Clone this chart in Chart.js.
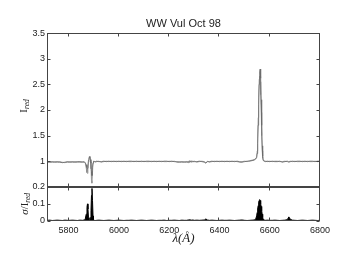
<!DOCTYPE html>
<html>
<head>
<meta charset="utf-8">
<script src="https://cdn.jsdelivr.net/npm/chart.js@4.4.1/dist/chart.umd.min.js"></script>
<style>
  body { margin: 0; background: #fff; }
  #wrap { width: 341px; height: 256px; }
</style>
</head>
<body>
<div id="wrap"><canvas id="myChart" width="341" height="256"></canvas></div>
<script>
// wavelength grid (Angstrom), denser around the lines
const lam = [
  5714, 5725, 5735, 5745, 5755, 5765, 5775, 5785, 5795, 5805,
  5815, 5825, 5835, 5845, 5855, 5862, 5866, 5870, 5873, 5875,
  5877, 5879, 5881, 5883, 5885, 5887, 5889, 5891, 5893, 5895,
  5897, 5899, 5902, 5906, 5912, 5920, 5930, 5940, 5950, 5960,
  5970, 5980, 5990, 6000, 6010, 6020, 6030, 6040, 6050, 6060,
  6070, 6080, 6090, 6100, 6110, 6120, 6130, 6140, 6150, 6160,
  6170, 6180, 6190, 6200, 6210, 6220, 6230, 6240, 6250, 6260,
  6270, 6276, 6282, 6288, 6294, 6300, 6310, 6320, 6330, 6340,
  6346, 6352, 6360, 6370, 6380, 6390, 6400, 6410, 6420, 6430,
  6440, 6450, 6460, 6470, 6480, 6490, 6500, 6510, 6520, 6530,
  6538, 6544, 6548, 6550, 6552, 6554, 6556, 6558, 6560, 6562,
  6564, 6566, 6568, 6570, 6572, 6574, 6578, 6584, 6590, 6600,
  6610, 6620, 6630, 6640, 6650, 6660, 6670, 6676, 6682, 6690,
  6700, 6710, 6720, 6730, 6740, 6750, 6760, 6770, 6780, 6790,
  6800
];

// relative intensity, two overplotted spectra
const iRelA = [
  0.99, 0.98, 0.99, 0.98, 0.99, 0.98, 0.97, 0.98, 0.99, 0.98,
  0.99, 0.98, 0.99, 0.99, 0.98, 0.99, 0.97, 0.93, 0.88, 0.86,
  0.92, 1.02, 1.06, 1.08, 1.07, 1.03, 0.96, 0.80, 0.72, 0.88,
  0.97, 1.00, 0.99, 0.99, 1.00, 0.99, 0.99, 1.00, 0.99, 1.00,
  0.99, 1.00, 0.99, 1.00, 0.99, 1.00, 0.99, 1.00, 1.00, 0.99,
  1.00, 0.99, 1.00, 0.99, 1.00, 1.00, 0.99, 1.00, 0.99, 1.00,
  0.99, 1.00, 1.00, 0.99, 1.00, 0.99, 0.99, 0.98, 0.99, 0.98,
  0.99, 0.97, 1.01, 0.98, 1.00, 0.99, 0.99, 1.00, 0.99, 0.98,
  0.96, 0.99, 0.99, 1.00, 0.99, 1.00, 0.99, 1.00, 0.99, 1.00,
  0.99, 1.00, 0.99, 1.00, 0.99, 0.98, 0.99, 1.00, 1.00, 1.01,
  1.02, 1.04, 1.07, 1.15, 1.35, 1.70, 2.10, 2.50, 2.75, 2.80,
  2.62, 2.20, 1.70, 1.30, 1.10, 1.03, 1.00, 0.99, 1.00, 0.99,
  1.00, 0.99, 0.99, 1.00, 0.98, 0.99, 1.00, 0.98, 0.99, 1.00,
  0.99, 1.00, 1.00, 0.99, 1.00, 0.99, 1.00, 1.00, 0.99, 1.00,
  1.00
];
const iRelB = [
  0.98, 0.99, 0.98, 0.99, 0.98, 0.99, 0.98, 0.97, 0.98, 0.99,
  0.98, 0.99, 0.98, 0.98, 0.99, 0.98, 0.96, 0.86, 0.78, 0.76,
  0.85, 0.98, 1.04, 1.10, 1.05, 0.98, 0.85, 0.62, 0.57, 0.78,
  0.95, 0.99, 1.00, 0.98, 0.99, 1.00, 0.98, 0.99, 1.00, 0.99,
  1.00, 0.99, 1.00, 0.99, 1.00, 0.99, 1.00, 0.99, 0.99, 1.00,
  0.99, 1.00, 0.99, 1.00, 0.99, 0.99, 1.00, 0.99, 1.00, 0.99,
  1.00, 0.99, 0.99, 1.00, 0.99, 1.00, 0.98, 0.99, 0.98, 0.99,
  0.98, 1.00, 0.97, 1.01, 0.98, 1.00, 0.98, 0.99, 1.00, 0.99,
  0.97, 1.00, 0.98, 0.99, 1.00, 0.99, 1.00, 0.99, 1.00, 0.99,
  1.00, 0.99, 1.00, 0.99, 0.98, 0.99, 1.00, 0.99, 1.01, 1.02,
  1.03, 1.05, 1.08, 1.20, 1.45, 1.85, 2.25, 2.60, 2.66, 2.55,
  2.30, 1.95, 1.50, 1.20, 1.06, 1.01, 1.00, 1.00, 0.99, 1.00,
  0.99, 1.00, 1.00, 0.99, 0.99, 1.00, 0.99, 0.99, 1.00, 0.99,
  1.00, 0.99, 0.99, 1.00, 0.99, 1.00, 0.99, 0.99, 1.00, 0.99,
  1.00
];

// sigma / I_rel
const sigmaRel = [
  0.004, 0.005, 0.003, 0.004, 0.005, 0.004, 0.003, 0.005, 0.004, 0.004,
  0.005, 0.004, 0.003, 0.005, 0.004, 0.006, 0.010, 0.040, 0.080, 0.100,
  0.070, 0.020, 0.010, 0.005, 0.008, 0.020, 0.060, 0.150, 0.190, 0.120,
  0.030, 0.008, 0.004, 0.003, 0.004, 0.005, 0.004, 0.003, 0.004, 0.005,
  0.004, 0.003, 0.004, 0.005, 0.004, 0.003, 0.004, 0.004, 0.005, 0.004,
  0.003, 0.004, 0.005, 0.004, 0.003, 0.004, 0.005, 0.004, 0.003, 0.004,
  0.004, 0.005, 0.003, 0.004, 0.004, 0.005, 0.004, 0.003, 0.005, 0.004,
  0.004, 0.006, 0.007, 0.005, 0.006, 0.004, 0.005, 0.004, 0.005, 0.006,
  0.012, 0.006, 0.004, 0.005, 0.004, 0.003, 0.004, 0.005, 0.004, 0.004,
  0.005, 0.004, 0.003, 0.004, 0.005, 0.006, 0.004, 0.003, 0.004, 0.005,
  0.006, 0.010, 0.030, 0.050, 0.070, 0.090, 0.110, 0.120, 0.125, 0.120,
  0.100, 0.085, 0.060, 0.040, 0.020, 0.010, 0.006, 0.004, 0.005, 0.004,
  0.004, 0.005, 0.004, 0.003, 0.004, 0.005, 0.008, 0.024, 0.010, 0.005,
  0.004, 0.003, 0.004, 0.005, 0.004, 0.003, 0.004, 0.005, 0.004, 0.003,
  0.004
];

const xTickVals = [5800, 6000, 6200, 6400, 6600, 6800];
const yTickVals = [0.5, 1, 1.5, 2, 2.5, 3, 3.5];
const y2TickVals = [0, 0.1, 0.2];
const chartTitle = 'WW Vul Oct 98';

const toXY = (ys) => lam.map((l, i) => ({ x: l, y: ys[i] }));

// box round each panel with inward ticks (matlab style), plus y axis titles with subscripts
function drawRotLabel(ctx, cx, cy, parts) {
  ctx.save();
  ctx.translate(cx, cy);
  ctx.rotate(-Math.PI / 2);
  let w = 0;
  parts.forEach(p => { ctx.font = p.font; p.w = ctx.measureText(p.t).width; w += p.w; });
  let x = -w / 2;
  ctx.textBaseline = 'alphabetic';
  ctx.fillStyle = '#222';
  parts.forEach(p => { ctx.font = p.font; ctx.fillText(p.t, x, p.dy); x += p.w; });
  ctx.restore();
}

const panelFrame = {
  id: 'panelFrame',
  afterDraw(chart) {
    const ctx = chart.ctx;
    const xs = chart.scales.x;
    ctx.save();
    ctx.strokeStyle = '#444';
    ctx.lineWidth = 1;
    ['y', 'y2'].forEach(id => {
      const ys = chart.scales[id];
      const l = Math.round(xs.left) + 0.5, r = Math.round(xs.right) - 0.5;
      const t = Math.round(ys.top) + 0.5, b = Math.round(ys.bottom) - 0.5;
      ctx.strokeRect(l, t, r - l, b - t);
      ctx.beginPath();
      xs.ticks.forEach(tk => {
        const px = Math.round(xs.getPixelForValue(tk.value)) - 0.5;
        ctx.moveTo(px, t); ctx.lineTo(px, t + 3);
        ctx.moveTo(px, b); ctx.lineTo(px, b - 3);
      });
      ys.ticks.forEach(tk => {
        const py = Math.round(ys.getPixelForValue(tk.value)) + 0.5;
        ctx.moveTo(l, py); ctx.lineTo(l + 3, py);
        ctx.moveTo(r, py); ctx.lineTo(r - 3, py);
      });
      ctx.stroke();
    });
    ctx.restore();

    const yTop = chart.scales.y, yBot = chart.scales.y2;
    const big = '11px "Liberation Serif"', sub = 'italic 7.5px "Liberation Serif"';
    drawRotLabel(ctx, 27, (yTop.top + yTop.bottom) / 2 - 4, [
      { t: 'I', font: big, dy: 0 },
      { t: 'red', font: sub, dy: 2 }
    ]);
    drawRotLabel(ctx, 28, (yBot.top + yBot.bottom) / 2, [
      { t: 'σ', font: 'italic ' + big, dy: 0 },
      { t: '/', font: big, dy: 0 },
      { t: 'I', font: big, dy: 0 },
      { t: 'red', font: sub, dy: 2 }
    ]);
  }
};

Chart.defaults.font.family = '"Liberation Sans", Arial, sans-serif';
Chart.defaults.font.size = 9;
Chart.defaults.color = '#222';

const config = {
  type: 'line',
  data: {
    datasets: [
      {
        data: toXY(iRelA),
        yAxisID: 'y',
        borderColor: '#6a6a6a',
        borderWidth: 0.8,
        pointRadius: 0,
        fill: '+1',
        backgroundColor: '#8a8a8a'
      },
      {
        data: toXY(iRelB),
        yAxisID: 'y',
        borderColor: '#999',
        borderWidth: 0.8,
        pointRadius: 0,
        fill: false
      },
      {
        data: toXY(sigmaRel),
        yAxisID: 'y2',
        borderColor: '#000',
        borderWidth: 1,
        pointRadius: 0,
        fill: 'origin',
        backgroundColor: '#000'
      }
    ]
  },
  options: {
    responsive: false,
    animation: false,
    devicePixelRatio: 1,
    layout: { padding: { top: 0, right: 21, bottom: 0, left: 0 } },
    plugins: {
      legend: { display: false },
      tooltip: { enabled: false },
      title: {
        display: true,
        text: chartTitle,
        fullSize: false,
        color: '#222',
        font: { family: '"Liberation Sans", Arial, sans-serif', size: 11, weight: 'normal' },
        padding: { top: 17, bottom: 3 }
      }
    },
    scales: {
      x: {
        type: 'linear',
        min: 5714,
        max: 6800,
        grid: { display: false, drawTicks: false },
        border: { display: false },
        afterBuildTicks: (s) => { s.ticks = xTickVals.map(v => ({ value: v })); },
        ticks: { padding: 4, autoSkip: false, maxRotation: 0, callback: (v) => String(v) },
        title: {
          display: true,
          text: 'λ(Å)',
          color: '#222',
          font: { family: '"Liberation Serif", serif', size: 13, style: 'italic' },
          padding: { top: 0, bottom: 10 }
        },
        afterFit: (s) => { s.height = 35; s.paddingLeft = 0; s.paddingRight = 0; }
      },
      // bottom panel listed first: left-side stacks are placed in reverse order
      y2: {
        type: 'linear',
        position: 'left',
        stack: 'spec',
        stackWeight: 1,
        min: 0,
        max: 0.2,
        grid: { display: false, drawTicks: false },
        border: { display: false },
        afterBuildTicks: (s) => { s.ticks = y2TickVals.map(v => ({ value: v })); },
        ticks: { padding: 2, autoSkip: false, callback: (v) => String(v) },
        afterFit: (s) => { s.width = 47; s.paddingTop = 0; s.paddingBottom = 0; }
      },
      y: {
        type: 'linear',
        position: 'left',
        stack: 'spec',
        stackWeight: 4.48,
        min: 0.5,
        max: 3.5,
        grid: { display: false, drawTicks: false },
        border: { display: false },
        afterBuildTicks: (s) => { s.ticks = yTickVals.map(v => ({ value: v })); },
        ticks: {
          padding: 2,
          autoSkip: false,
          callback: (v) => v === 0.5 ? '' : String(v)
        },
        afterFit: (s) => { s.width = 47; s.paddingTop = 0; s.paddingBottom = 0; }
      }
    }
  },
  plugins: [panelFrame]
};

const ctx = document.querySelector('#myChart').getContext('2d');
new Chart(ctx, config);
</script>
</body>
</html>
